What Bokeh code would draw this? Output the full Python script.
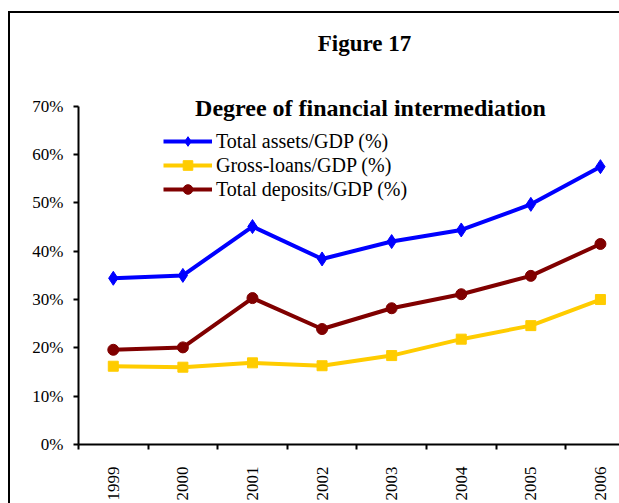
import math
from bokeh.plotting import figure
from bokeh.models import Range1d, FixedTicker, Label, PrintfTickFormatter, InlineStyleSheet
from bokeh.embed import file_html
from bokeh.resources import INLINE

years = ["1999", "2000", "2001", "2002", "2003", "2004", "2005", "2006"]
total_assets = [34.4, 35.0, 45.1, 38.4, 42.0, 44.4, 49.7, 57.5]
gross_loans = [16.2, 16.0, 16.9, 16.3, 18.4, 21.8, 24.6, 30.0]
total_deposits = [19.6, 20.1, 30.3, 23.9, 28.2, 31.1, 34.9, 41.5]
y_ticks = [0, 10, 20, 30, 40, 50, 60, 70]

x = list(range(len(years)))

W, H = 619, 503
FRAME_BOTTOM = 445   # pixel row of 0%
TOP70 = 106          # pixel row of 70%
y_end = y_ticks[-1] * FRAME_BOTTOM / (FRAME_BOTTOM - TOP70)

p = figure(width=W, height=H, output_backend="svg", toolbar_location=None,
           x_range=Range1d(-0.5, 7.274), y_range=Range1d(0, y_end),
           min_border_left=78, min_border_top=0, min_border_right=0,
           min_border_bottom=H - FRAME_BOTTOM)
p.title = None
p.outline_line_color = None
p.xgrid.grid_line_color = None
p.ygrid.grid_line_color = None
p.background_fill_color = "white"
p.border_fill_color = "white"

FONT = "Liberation Serif"

# x axis: labels at categories, ticks between categories
xa = p.xaxis[0]
xa.ticker = FixedTicker(ticks=x, minor_ticks=[i - 0.5 for i in range(len(years) + 1)])
xa.major_label_overrides = {i: y for i, y in enumerate(years)}
xa.major_tick_out = 0
xa.major_tick_in = 0
xa.minor_tick_out = 5
xa.minor_tick_in = 0
xa.minor_tick_line_width = 2
xa.minor_tick_line_color = "black"
xa.axis_line_width = 2
xa.major_label_orientation = math.pi / 2
xa.major_label_standoff = 17
xa.major_label_text_font = FONT
xa.major_label_text_font_size = "17px"
xa.major_label_text_color = "black"

ya = p.yaxis[0]
ya.ticker = FixedTicker(ticks=y_ticks, minor_ticks=[])
ya.bounds = (y_ticks[0], y_ticks[-1])
ya.formatter = PrintfTickFormatter(format="%d%%")
ya.major_tick_out = 5
ya.major_tick_in = 0
ya.major_tick_line_width = 2
ya.minor_tick_line_color = None
ya.axis_line_width = 2
ya.major_label_standoff = 10
ya.major_label_text_font = FONT
ya.major_label_text_font_size = "17px"
ya.major_label_text_color = "black"

series = [
    ("Total assets/GDP (%)", total_assets, "#0000FF", "diamond", 14),
    ("Gross-loans/GDP (%)", gross_loans, "#FFCC00", "square", 10),
    ("Total deposits/GDP (%)", total_deposits, "#800000", "circle", 11),
]
for label, vals, color, marker, size in series:
    p.line(x, vals, line_color=color, line_width=4, legend_label=label)
    p.scatter(x, vals, marker=marker, size=size, fill_color=color,
              line_color=color, legend_label=label)

lg = p.legend[0]
lg.location = (85, 243)
lg.glyph_width = 49
lg.glyph_height = 24
lg.label_height = 24
lg.spacing = 0
lg.padding = 0
lg.margin = 0
lg.label_standoff = 4
lg.border_line_alpha = 0
lg.background_fill_alpha = 0
lg.label_text_font = FONT
lg.label_text_font_size = "20px"
lg.label_text_color = "black"

p.add_layout(Label(x=364, y=43.3, x_units="canvas", y_units="canvas", text="Figure 17",
                   text_align="center", text_baseline="alphabetic", text_font=FONT,
                   text_font_style="bold", text_font_size="23px", text_color="black"))
p.add_layout(Label(x=370, y=107, x_units="canvas", y_units="canvas",
                   text="Degree of financial intermediation",
                   text_align="center", text_baseline="alphabetic", text_font=FONT,
                   text_font_style="bold", text_font_size="24px", text_color="black"))

# outer frame of the figure box (left and top edges visible, rest cut off)
p.stylesheets = [InlineStyleSheet(css=(
    ":host { position: relative; }"
    ":host::after { content: ''; position: absolute; left: 8.4px; top: 11.2px;"
    " right: 0; bottom: 0; border-left: 2.6px solid black; border-top: 2.6px solid black;"
    " pointer-events: none; z-index: 100; }"
))]

open("out.html", "w").write(file_html(p, INLINE))
